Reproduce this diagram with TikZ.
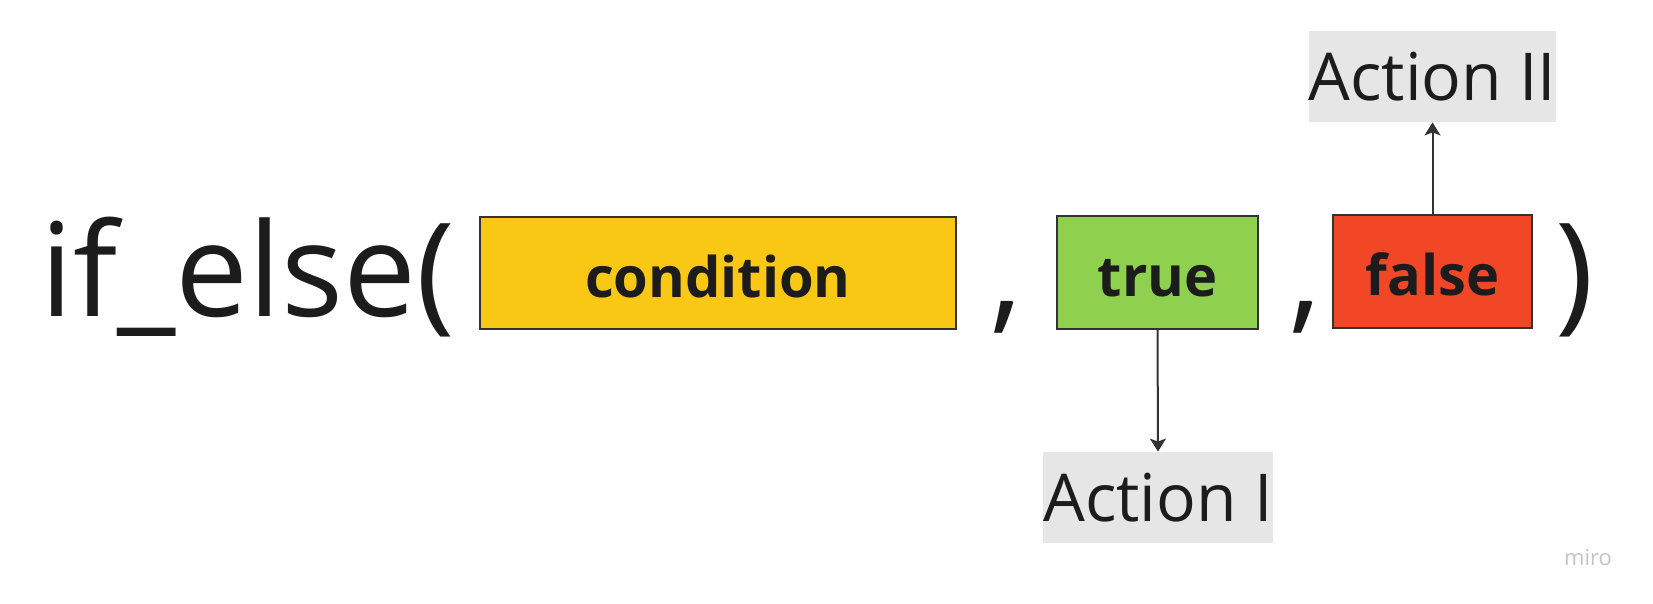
\documentclass[tikz,border=0pt]{standalone}
\usepackage{fontspec}
\setmainfont{Open Sans}
\usetikzlibrary{arrows.meta}
\definecolor{ink}{HTML}{1C1C1C}
\definecolor{edge}{HTML}{333333}
\definecolor{myyellow}{HTML}{F8C815}
\definecolor{mygreen}{HTML}{8FD14F}
\definecolor{myred}{HTML}{F24726}
\definecolor{mygray}{HTML}{E6E6E6}
\definecolor{mirogray}{HTML}{C3C3CD}
\tikzset{
  bigtext/.style={font=\fontsize{65pt}{65pt}\selectfont, text=ink, inner sep=0pt},
  argbox/.style={draw=edge, line width=0.8pt, inner sep=0pt, text=ink,
    text height=24pt, text depth=0pt,
    font=\fontsize{28pt}{28pt}\selectfont\bfseries},
  actbox/.style={fill=mygray, inner sep=0pt, text=ink,
    font=\fontsize{33pt}{33pt}\selectfont},
  conn/.style={draw=edge, line width=1pt, -{Stealth[length=6.5pt,width=8pt,inset=1.5pt]}}
}
\begin{document}
\begin{tikzpicture}[x=0.5pt,y=-0.5pt]
\useasboundingbox[fill=white] (0,0) rectangle (1653,604);
\node[bigtext, anchor=base west] (fn) at (40,316) {if\_else(};
\node[argbox, fill=myyellow, minimum width=238pt, minimum height=56pt] (cond) at (718,273) {condition};
\node[bigtext, anchor=base] (c1) at (1006,316) {,};
\node[argbox, fill=mygreen, minimum width=100.5pt, minimum height=56.5pt] (tru) at (1157.5,272.5) {true};
\node[bigtext, anchor=base] (c2) at (1305,316) {,};
\node[argbox, fill=myred, minimum width=99.5pt, minimum height=56.5pt] (fal) at (1432.5,271.5) {false};
\node[bigtext, anchor=base] (cp) at (1575,316) {)};
\node[actbox, minimum width=114pt, minimum height=45.5pt] (a1) at (1158,497.5) {Action I};
\node[actbox, minimum width=122.5pt, minimum height=45.5pt] (a2) at (1432.5,76.5) {Action II};
\draw[conn] (tru.south) -- (a1.north);
\draw[conn] (fal.north) -- (a2.south);
\node[text=mirogray, font=\fontsize{11pt}{11pt}\selectfont, inner sep=0pt] (miro) at (1588,558) {miro};
\end{tikzpicture}
\end{document}
